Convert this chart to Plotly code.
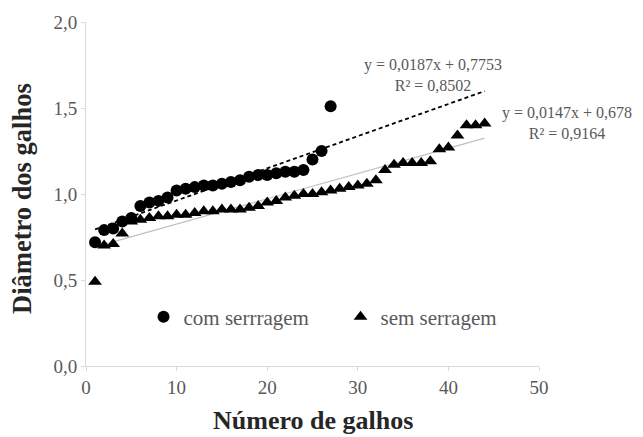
import plotly.graph_objects as go

# Data
x_com = list(range(1, 28))
y_com = [0.72, 0.79, 0.80, 0.84, 0.86, 0.93, 0.95, 0.96, 0.98, 1.02,
         1.03, 1.04, 1.05, 1.05, 1.06, 1.07, 1.08, 1.10, 1.11, 1.11,
         1.12, 1.13, 1.13, 1.14, 1.20, 1.25, 1.51]

x_sem = list(range(1, 45))
y_sem = [0.49, 0.70, 0.71, 0.77, 0.84, 0.85, 0.86, 0.87, 0.87, 0.88,
         0.88, 0.89, 0.90, 0.90, 0.91, 0.91, 0.91, 0.92, 0.93, 0.95,
         0.96, 0.98, 0.99, 1.00, 1.00, 1.01, 1.02, 1.03, 1.04, 1.05,
         1.06, 1.08, 1.14, 1.17, 1.18, 1.18, 1.18, 1.19, 1.26, 1.27,
         1.34, 1.40, 1.40, 1.41]

# Trendline coefficients printed on the chart
slope_com, icpt_com, r2_com = 0.0187, 0.7753, "0,8502"
slope_sem, icpt_sem, r2_sem = 0.0147, 0.678, "0,9164"
trend_x = [1, 44]

x_ticks = [0, 10, 20, 30, 40, 50]
y_ticks = [0.0, 0.5, 1.0, 1.5, 2.0]

x_title = "Número de galhos"
y_title = "Diâmetro dos galhos"

SERIF = "Liberation Serif"
GRAY = "#595959"
DARK = "#262626"

fig = go.Figure()

fig.add_trace(go.Scatter(
    x=trend_x, y=[slope_sem * v + icpt_sem for v in trend_x], mode="lines",
    line=dict(color="#bfbfbf", width=1.2), showlegend=False, hoverinfo="skip"))
fig.add_trace(go.Scatter(
    x=trend_x, y=[slope_com * v + icpt_com for v in trend_x], mode="lines",
    line=dict(color="black", width=1.8, dash="4px,3px"), showlegend=False, hoverinfo="skip"))

fig.add_trace(go.Scatter(
    x=x_com, y=y_com, mode="markers", name="com serrragem",
    marker=dict(symbol="circle", size=12, color="black")))
fig.add_trace(go.Scatter(
    x=x_sem, y=y_sem, mode="markers", name="sem serragem",
    marker=dict(symbol="triangle-up", size=12, color="black")))

ann_font = dict(family=SERIF, size=16, color=GRAY)
fig.add_annotation(x=0.765, y=1.69, xref="paper", yref="y", showarrow=False,
                   xanchor="center", yanchor="middle", align="center",
                   text="y = 0,0187x + 0,7753<br>R² = " + r2_com, font=ann_font)
fig.add_annotation(x=1.062, y=1.415, xref="paper", yref="y", showarrow=False,
                   xanchor="center", yanchor="middle", align="center",
                   text="y = 0,0147x + 0,678<br>R² = " + r2_sem, font=ann_font)

# axis titles
fig.add_annotation(x=0.5, y=-0.157, xref="paper", yref="paper", showarrow=False,
                   xanchor="center", yanchor="middle",
                   text="<b>" + x_title + "</b>", font=dict(family=SERIF, size=26, color=DARK))
fig.add_annotation(x=-0.141, y=0.486, xref="paper", yref="paper", showarrow=False,
                   xanchor="center", yanchor="middle", textangle=-90,
                   text="<b>" + y_title + "</b>", font=dict(family=SERIF, size=26.5, color=DARK))

fig.update_layout(
    width=643, height=437,
    margin=dict(l=86, r=104, t=22, b=71),
    paper_bgcolor="white", plot_bgcolor="white",
    separators=",.",
    font=dict(family=SERIF, color=GRAY),
    legend=dict(orientation="h", x=0.127, y=0.142, xanchor="left", yanchor="middle",
                font=dict(family=SERIF, size=21, color=GRAY),
                bgcolor="rgba(0,0,0,0)", entrywidth=152, entrywidthmode="pixels",
                itemwidth=30),
    xaxis=dict(range=[0, 50], tickvals=x_ticks, showgrid=False, zeroline=False,
               automargin=False,
               showline=True, linecolor="#d9d9d9", linewidth=1,
               ticks="outside", ticklen=4, tickcolor="#d9d9d9",
               tickfont=dict(family=SERIF, size=19, color=GRAY)),
    yaxis=dict(range=[0, 2.0], tickvals=y_ticks, tickformat=".1f", showgrid=False,
               automargin=False,
               zeroline=False, showline=True, linecolor="#d9d9d9", linewidth=1,
               ticks="outside", ticklen=4, tickcolor="#d9d9d9",
               tickfont=dict(family=SERIF, size=19, color=GRAY)),
)

fig.write_html("out.html", config={"displayModeBar": False},
               post_script="document.body.style.margin='0px';")
